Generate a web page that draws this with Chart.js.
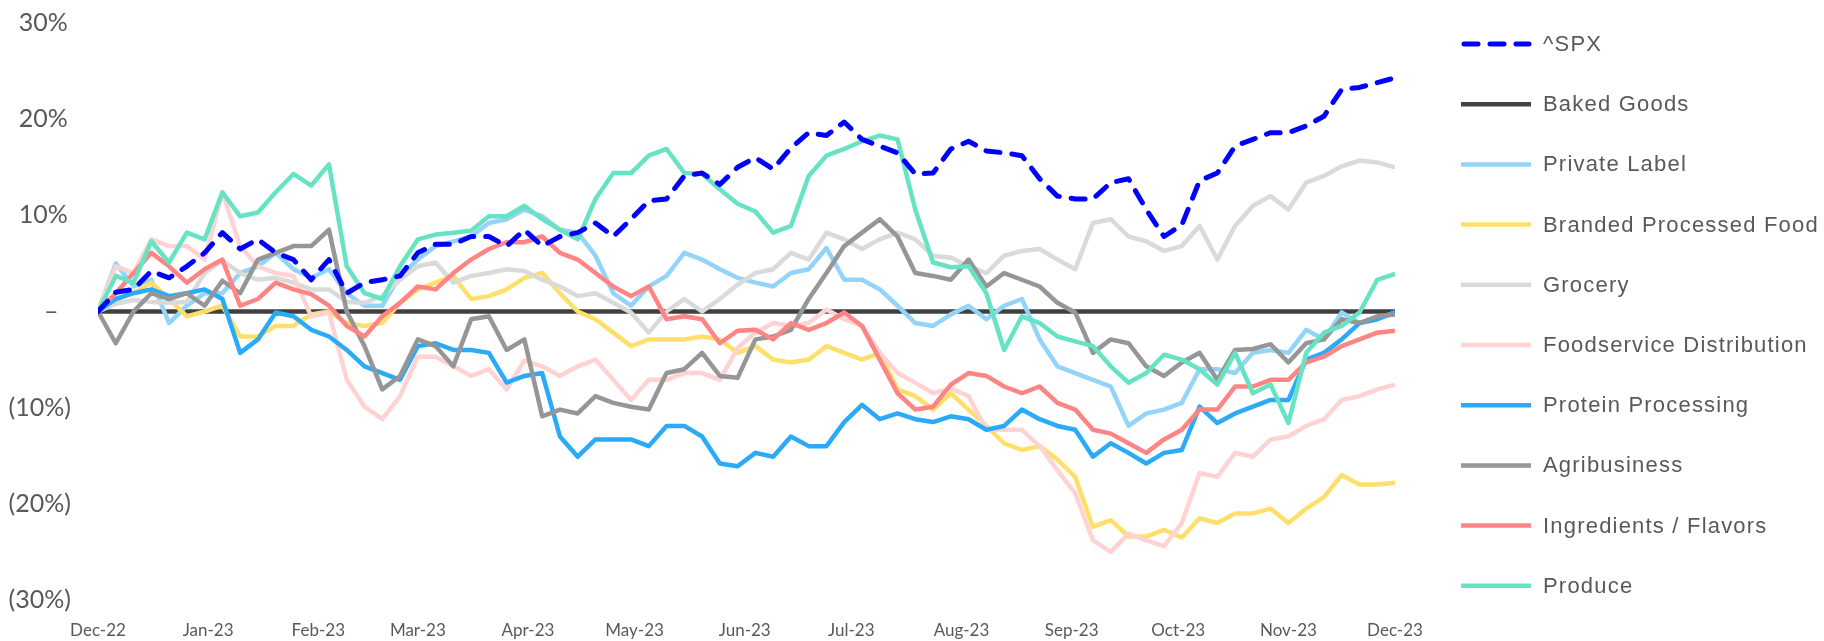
<!DOCTYPE html>
<html>
<head>
<meta charset="utf-8">
<script src="https://cdn.jsdelivr.net/npm/chart.js@4.4.0/dist/chart.umd.min.js"></script>
<style>
  html, body { margin: 0; padding: 0; background: #fff; }
  #wrap { width: 1824px; height: 641px; }
</style>
</head>
<body>
<div id="wrap"><canvas id="perfChart"></canvas></div>
<script>
// one value every 5 calendar days, starting at the first axis label (day 0)
const stepDays = 5;

// axis labels and their day offsets
const monthDays = [0, 31, 62, 90, 121, 151, 182, 212, 243, 274, 304, 335, 365];
const monthLabels = ['Dec-22', 'Jan-23', 'Feb-23', 'Mar-23', 'Apr-23', 'May-23', 'Jun-23',
                     'Jul-23', 'Aug-23', 'Sep-23', 'Oct-23', 'Nov-23', 'Dec-23'];
const yTicks = [-30, -20, -10, 0, 10, 20, 30];

// % change series
const spx = [0, 2.0, 2.3, 4.2, 3.5, 4.7, 6.1, 8.2, 6.5, 7.5, 6.1, 5.4, 3.3, 5.4, 1.9, 3.0, 3.3, 3.7, 6.1, 7.0,
  7.0, 7.8, 7.8, 6.8, 8.5, 6.8, 7.8, 8.2, 9.2, 7.8, 9.6, 11.5, 11.7, 14.1, 14.4, 13.2, 15.0, 16.0, 14.8, 17.0,
  18.6, 18.3, 19.7, 17.9, 17.2, 16.5, 14.3, 14.4, 16.9, 17.7, 16.7, 16.5, 16.2, 13.8, 12.0, 11.7, 11.7, 13.4, 13.8, 10.6,
  7.8, 9.0, 13.6, 14.4, 17.2, 17.9, 18.6, 18.6, 19.3, 20.3, 23.1, 23.3, 23.8, 24.3];
const bakedGoods = [0, 0, 0, 0, 0, 0, 0, 0, 0, 0, 0, 0, 0, 0, 0, 0, 0, 0, 0, 0,
  0, 0, 0, 0, 0, 0, 0, 0, 0, 0, 0, 0, 0, 0, 0, 0, 0, 0, 0, 0,
  0, 0, 0, 0, 0, 0, 0, 0, 0, 0, 0, 0, 0, 0, 0, 0, 0, 0, 0, 0,
  0, 0, 0, 0, 0, 0, 0, 0, 0, 0, 0, 0, 0, 0];
const privateLabel = [0, 5.0, 2.6, 3.3, -1.2, 0.6, 1.9, 1.9, 4.0, 4.7, 6.1, 4.4, 3.5, 4.4, 1.9, 0.6, 0.6, 3.7, 5.4, 6.8,
  7.3, 7.8, 9.2, 9.6, 10.6, 9.9, 8.5, 8.2, 5.8, 1.9, 0.6, 2.6, 3.7, 6.1, 5.4, 4.4, 3.5, 3.0, 2.6, 4.0,
  4.4, 6.6, 3.3, 3.3, 2.3, 0.6, -1.2, -1.5, -0.3, 0.6, -0.8, 0.6, 1.3, -2.9, -5.7, -6.4, -7.1, -7.8, -11.9, -10.6,
  -10.2, -9.5, -6.0, -6.0, -6.4, -4.3, -4.0, -4.3, -1.9, -2.9, -0.1, -1.2, -0.8, -0.1];
const brandedFood = [0, 1.3, 1.9, 3.0, 1.3, -0.5, 0, 0.6, -2.6, -2.6, -1.5, -1.5, -0.3, 0, -1.2, -1.5, -1.2, 0.9, 2.3, 3.0,
  3.7, 1.3, 1.6, 2.3, 3.5, 4.0, 1.9, 0, -0.8, -2.2, -3.6, -2.9, -2.9, -2.9, -2.6, -2.9, -4.3, -3.6, -5.0, -5.3,
  -5.0, -3.6, -4.3, -5.0, -4.3, -8.1, -8.8, -10.2, -8.5, -10.2, -11.9, -13.7, -14.4, -14.0, -15.4, -17.2, -22.4, -21.7, -23.4, -23.4,
  -22.7, -23.5, -21.5, -22.0, -21.0, -21.0, -20.5, -22.0, -20.5, -19.3, -17.0, -18.0, -18.0, -17.8];
const grocery = [0, 0.8, 1.2, 1.0, 0.9, 1.0, 4.0, 5.3, 4.0, 3.3, 3.5, 3.0, 2.3, 2.3, 1.0, 0.9, 1.6, 3.3, 4.7, 5.1,
  3.0, 3.7, 4.0, 4.4, 4.2, 3.3, 2.6, 1.6, 1.9, 0.9, -0.1, -2.2, 0, 1.3, 0, 1.3, 2.8, 4.0, 4.4, 6.1,
  5.4, 8.2, 7.5, 6.5, 7.5, 8.2, 7.5, 5.8, 5.6, 4.7, 4.0, 5.8, 6.3, 6.5, 5.4, 4.4, 9.2, 9.6, 7.8, 7.3,
  6.3, 6.8, 8.9, 5.4, 8.9, 11.0, 12.0, 10.6, 13.4, 14.1, 15.1, 15.7, 15.5, 15.0];
const foodservice = [0, 4.7, 4.0, 7.5, 6.8, 6.8, 5.4, 12.4, 6.8, 4.7, 4.0, 3.7, -0.5, -0.1, -7.1, -9.9, -11.2, -8.8, -4.7, -4.7,
  -5.7, -6.7, -6.0, -8.1, -5.1, -5.7, -6.7, -5.7, -5.0, -7.1, -9.2, -7.1, -7.1, -6.4, -6.4, -7.1, -3.8, -2.2, -1.2, -1.5,
  -1.2, 0.2, -0.8, -1.5, -4.3, -6.4, -7.4, -8.5, -8.0, -8.8, -12.3, -12.3, -12.3, -14.0, -16.5, -18.9, -23.8, -25.0, -23.1, -23.8,
  -24.4, -22.0, -16.8, -17.2, -14.7, -15.1, -13.3, -13.0, -11.9, -11.2, -9.2, -8.8, -8.1, -7.6];
const protein = [0, 1.3, 1.9, 2.3, 1.6, 1.9, 2.3, 1.3, -4.3, -2.9, -0.1, -0.5, -1.9, -2.6, -4.0, -5.7, -6.4, -7.1, -3.6, -3.3,
  -4.0, -4.0, -4.3, -7.4, -6.7, -6.4, -13.0, -15.1, -13.3, -13.3, -13.3, -14.0, -11.9, -11.9, -13.0, -15.8, -16.1, -14.7, -15.1, -13.0,
  -14.0, -14.0, -11.5, -9.7, -11.2, -10.6, -11.2, -11.5, -10.9, -11.2, -12.3, -11.9, -10.2, -11.2, -11.9, -12.3, -15.1, -13.7, -14.7, -15.8,
  -14.7, -14.4, -9.9, -11.6, -10.6, -9.9, -9.2, -9.2, -5.0, -4.3, -2.9, -1.2, -0.8, -0.1];
const agribusiness = [0, -3.3, 0, 1.9, 1.3, 1.9, 0.6, 3.2, 1.9, 5.4, 6.1, 6.8, 6.8, 8.5, 0, -3.6, -8.1, -6.7, -2.9, -3.6,
  -5.7, -0.8, -0.5, -4.0, -2.9, -10.9, -10.2, -10.6, -8.8, -9.5, -9.9, -10.2, -6.4, -6.0, -4.3, -6.7, -6.9, -2.9, -2.6, -1.9,
  1.3, 4.0, 6.8, 8.2, 9.6, 7.8, 4.0, 3.7, 3.3, 5.4, 2.6, 4.0, 3.3, 2.6, 0.9, -0.1, -4.3, -2.9, -3.3, -5.7,
  -6.7, -5.3, -4.3, -7.1, -4.0, -3.9, -3.4, -5.3, -3.3, -2.9, -0.8, -1.2, -0.5, -0.3];
const ingredients = [0, 1.9, 4.0, 6.1, 4.7, 3.0, 4.4, 5.4, 0.6, 1.3, 3.0, 2.3, 1.8, 0.6, -1.5, -2.6, -0.5, 0.9, 2.6, 2.3,
  4.0, 5.4, 6.5, 7.2, 7.2, 7.8, 6.1, 5.4, 4.0, 2.6, 1.6, 2.6, -0.8, -0.5, -0.8, -3.3, -2.0, -1.9, -2.9, -1.2,
  -1.9, -1.2, -0.1, -1.5, -5.0, -8.5, -10.2, -9.9, -7.6, -6.4, -6.7, -7.8, -8.5, -7.8, -9.5, -10.2, -12.3, -12.7, -13.7, -14.7,
  -13.3, -12.3, -10.2, -10.2, -7.8, -7.8, -7.1, -7.1, -5.3, -4.7, -3.6, -2.9, -2.2, -2.0];
const produce = [0, 3.7, 3.0, 7.3, 5.1, 8.2, 7.5, 12.4, 9.9, 10.3, 12.4, 14.3, 13.1, 15.3, 4.7, 1.9, 1.3, 4.7, 7.5, 8.0,
  8.2, 8.4, 9.9, 9.9, 11.0, 9.6, 8.5, 7.5, 11.7, 14.4, 14.4, 16.2, 16.9, 14.4, 14.3, 12.7, 11.2, 10.4, 8.2, 8.9,
  14.1, 16.2, 16.9, 17.7, 18.3, 17.9, 10.6, 5.1, 4.6, 4.7, 1.9, -4.0, -0.5, -1.2, -2.6, -3.1, -3.6, -5.7, -7.4, -6.4,
  -4.5, -5.0, -6.0, -7.6, -4.3, -8.5, -7.6, -11.6, -4.3, -2.2, -1.5, -0.1, 3.3, 3.9];

const seriesNames = ['^SPX', 'Baked Goods', 'Private Label', 'Branded Processed Food', 'Grocery',
  'Foodservice Distribution', 'Protein Processing', 'Agribusiness', 'Ingredients / Flavors', 'Produce'];
const seriesValues = [spx, bakedGoods, privateLabel, brandedFood, grocery,
  foodservice, protein, agribusiness, ingredients, produce];
const seriesColors = ['#0000FF', '#404040', '#93D4FB', '#FFDF6B', '#DADADA',
  '#FFD3D3', '#2AAAF8', '#969696', '#FF8484', '#66E3C3'];

const toPoints = vals => vals.map((v, i) => ({ x: i * stepDays, y: v }));

const datasets = seriesNames.map((name, i) => ({
    label: name,
    data: toPoints(seriesValues[i]),
    borderColor: seriesColors[i],
    backgroundColor: seriesColors[i],
    borderWidth: i === 0 ? 5 : 4.5,
    borderDash: i === 0 ? [14, 12] : [],
    borderCapStyle: i === 0 ? 'round' : 'butt',
    borderJoinStyle: 'round',
    pointRadius: 0,
    tension: 0,
    // SPX on top, then later series over earlier ones
    order: i === 0 ? 0 : seriesNames.length - i
}));

// legend on the right, drawn by hand
const sideLegend = {
    id: 'sideLegend',
    afterDraw(chart) {
        const ctx = chart.ctx;
        ctx.save();
        ctx.font = '22px "Liberation Sans", Arial, sans-serif';
        ctx.letterSpacing = '1.2px';
        ctx.textBaseline = 'middle';
        chart.data.datasets.forEach((ds, i) => {
            const y = 44 + i * 60.2;
            ctx.beginPath();
            ctx.strokeStyle = ds.borderColor;
            ctx.lineWidth = ds.borderWidth;
            ctx.lineCap = ds.borderCapStyle;
            ctx.setLineDash(ds.borderDash);
            ctx.moveTo(i === 0 ? 1464 : 1461, y);
            ctx.lineTo(i === 0 ? 1529 : 1531, y);
            ctx.stroke();
            ctx.setLineDash([]);
            ctx.fillStyle = '#595959';
            ctx.fillText(ds.label, 1543, y + 1);
        });
        ctx.restore();
    }
};

const ctx = document.getElementById('perfChart').getContext('2d');
new Chart(ctx, {
    type: 'line',
    data: { datasets: datasets },
    plugins: [sideLegend],
    options: {
        responsive: true,
        maintainAspectRatio: false,
        animation: false,
        layout: { padding: { top: 23, right: 429, bottom: 0, left: 0 } },
        plugins: {
            legend: { display: false },
            tooltip: { enabled: false }
        },
        scales: {
            x: {
                type: 'linear',
                min: 0,
                max: 365,
                grid: { display: false, drawTicks: false },
                border: { display: false },
                afterBuildTicks: axis => { axis.ticks = monthDays.map(v => ({ value: v })); },
                afterFit: axis => { axis.height = 41; },
                ticks: {
                    autoSkip: false,
                    maxRotation: 0,
                    padding: 20,
                    color: '#595959',
                    font: { family: 'Lato, "Open Sans", sans-serif', size: 17 },
                    callback: value => monthLabels[monthDays.indexOf(value)]
                }
            },
            y: {
                min: -30,
                max: 30,
                grid: { display: false, drawTicks: false },
                border: { display: false },
                afterBuildTicks: axis => { axis.ticks = yTicks.map(v => ({ value: v })); },
                afterFit: axis => {
                    axis.width = 98;
                    // labels may overhang the plot top/bottom like in the original
                    axis.paddingTop = 0;
                    axis.paddingBottom = 0;
                },
                ticks: {
                    padding: 27,
                    color: '#595959',
                    font: { family: 'Lato, "Open Sans", sans-serif', size: 25 },
                    callback: v => v === 0 ? '\u2013\u2002' : (v > 0 ? v + '%\u2009' : '(' + (-v) + '%)')
                }
            }
        }
    }
});
</script>
</body>
</html>
